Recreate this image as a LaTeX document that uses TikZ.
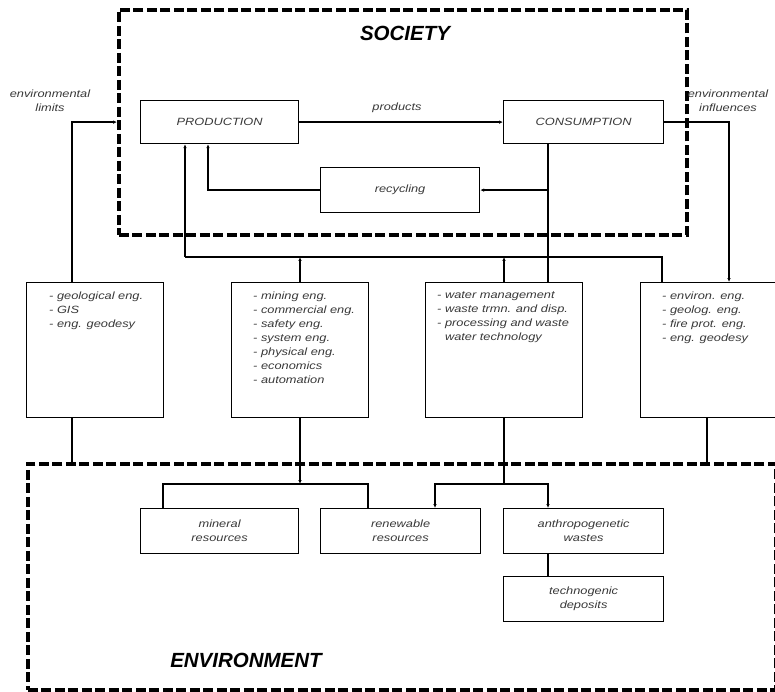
\documentclass[tikz,border=0pt]{standalone}
\usepackage{fontspec}
\setmainfont{Liberation Sans}
\newfontfamily\labfont{Liberation Sans}[FakeStretch=1.22]
\usetikzlibrary{arrows.meta,calc}
\begin{document}
\begin{tikzpicture}[x=1pt,y=-1pt,
 box/.style={draw, line width=1.2pt, inner sep=0pt, anchor=north west,
   font=\labfont\itshape\fontsize{10.5}{14}\selectfont, text=black!78, align=center},
 zone/.style={draw, line width=3.6pt, dash pattern=on 10pt off 3.5pt, anchor=north west, inner sep=0pt},
 conn/.style={line width=1.2pt},
 arr/.style={conn, -{Latex[length=4pt,width=3.6pt]}},
 lab/.style={font=\labfont\itshape\fontsize{10.5}{14}\selectfont, text=black!78, inner sep=0pt, align=center},
 listtext/.style={lab, align=left, anchor=north west},
 title/.style={font=\bfseries\itshape\fontsize{20.5}{24}\selectfont, inner sep=0pt}
]
\useasboundingbox (0,0) rectangle (775,692);

% zones
\node[zone, minimum width=568pt, minimum height=225pt] (soc) at (117,8) {};
\node[zone, minimum width=748pt, minimum height=226pt] (env) at (26,462) {};
\node[title] (societyt) at (405,33) {SOCIETY};
\node[title] (envt) at (246,660) {ENVIRONMENT};

% society boxes
\node[box, minimum width=158pt, minimum height=43pt] (prod) at (140,100) {PRODUCTION};
\node[box, minimum width=160pt, minimum height=43pt] (cons) at (503,100) {CONSUMPTION};
\node[box, minimum width=159pt, minimum height=45pt] (recy) at (320,167) {recycling};

% discipline boxes
\node[box, minimum width=137pt, minimum height=135pt] (geo) at (26,282) {};
\node[box, minimum width=137pt, minimum height=135pt] (mining) at (231,282) {};
\node[box, minimum width=157pt, minimum height=135pt] (water) at (425,282) {};
\node[box, minimum width=137pt, minimum height=135pt] (envb) at (640,282) {};

\node[listtext] (geol) at (49,292) {- geological eng.\\- GIS\\- eng. geodesy};
\node[listtext] (miningl) at (253,292) {- mining eng.\\- commercial eng.\\- safety eng.\\- system eng.\\- physical eng.\\- economics\\- automation};
\node[listtext] (waterl) at (437,292) {- water management\\- waste trmn. and disp.\\- processing and waste\\\phantom{- }water technology};
\node[listtext] (envl) at (662,292) {- environ. eng.\\- geolog. eng.\\- fire prot. eng.\\- eng. geodesy};

% environment boxes
\node[box, minimum width=158pt, minimum height=45pt] (miner) at (140,508) {mineral\\resources};
\node[box, minimum width=160pt, minimum height=45pt] (renew) at (320,508) {renewable\\resources};
\node[box, minimum width=160pt, minimum height=45pt] (anth) at (503,508) {anthropogenetic\\wastes};
\node[box, minimum width=160pt, minimum height=45pt] (techno) at (503,576) {technogenic\\deposits};

% labels
\node[lab] (limits) at (50,101) {environmental\\limits};
\node[lab] (infl) at (728,101) {environmental\\influences};
\node[lab] (prodl) at (397,108) {products};

% column coordinates
\coordinate (x72) at (72,0);
\coordinate (x163) at (163,0);
\coordinate (x185) at (185,0);
\coordinate (x208) at (208,0);
\coordinate (x300) at (300,0);
\coordinate (x368) at (368,0);
\coordinate (x435) at (435,0);
\coordinate (x504) at (504,0);
\coordinate (x548) at (548,0);
\coordinate (x662) at (662,0);
\coordinate (x707) at (707,0);
\coordinate (x729) at (729,0);
\coordinate (bus1) at (0,257);
\coordinate (bus2) at (0,484);

% society connectors
\draw[arr] (prod) -- (cons);
\draw[conn] (x548 |- cons.south) -- (x548 |- water.north);
\draw[arr] (x548 |- recy.east) -- (recy.east);
\draw[arr] (recy.west) -| (x208 |- prod.south);
\draw[arr] (x72 |- geo.north) |- (soc.west |- prod.west);
\draw[arr] (cons.east) -| (x729 |- envb.north);
\draw[conn] (x662 |- envb.north) -- (x662 |- bus1) -- (x185 |- bus1);
\draw[arr] (x185 |- bus1) -- (x185 |- prod.south);
\draw[arr] (x300 |- mining.north) -- (x300 |- bus1);
\draw[arr] (x504 |- water.north) -- (x504 |- bus1);

% environment connectors
\draw[conn] (x72 |- geo.south) -- (x72 |- env.north);
\draw[arr] (x300 |- mining.south) -- (x300 |- bus2);
\draw[conn] (x163 |- miner.north) -- (x163 |- bus2) -- (x368 |- bus2) -- (x368 |- renew.north);
\draw[conn] (x504 |- water.south) -- (x504 |- bus2);
\draw[arr] (x504 |- bus2) -| (x435 |- renew.north);
\draw[arr] (x504 |- bus2) -| (x548 |- anth.north);
\draw[conn] (x707 |- envb.south) -- (x707 |- env.north);
\draw[conn] (x548 |- anth.south) -- (x548 |- techno.north);
\end{tikzpicture}
\end{document}
